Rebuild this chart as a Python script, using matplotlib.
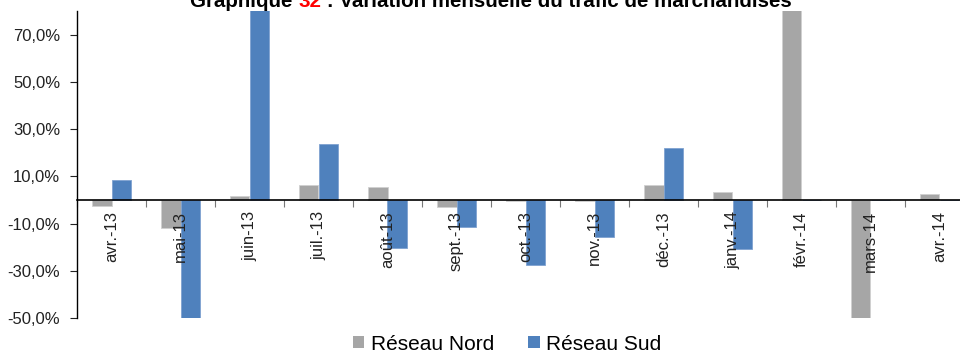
import numpy as np
import matplotlib
matplotlib.use("Agg")
import matplotlib.pyplot as plt
from matplotlib.patches import Patch
from matplotlib.ticker import FixedLocator, FuncFormatter

plt.rcParams['font.family'] = ['Liberation Sans', 'DejaVu Sans']

# monthly variation of freight traffic (%)
mois = ['avr.-13', 'mai-13', 'juin-13', 'juil.-13', 'août-13', 'sept.-13',
        'oct.-13', 'nov.-13', 'déc.-13', 'janv.-14', 'févr.-14', 'mars-14', 'avr.-14']
reseau_nord = [-2.6, -12.0, 1.5, 6.2, 5.6, -3.2, -0.5, -0.4, 6.2, 3.2, 95.0, -55.0, 2.6]
reseau_sud = [8.3, -55.0, 95.0, 23.8, -20.4, -11.4, -27.7, -15.8, 21.8, -20.9, 0.0, 0.0, 0.0]

col_nord = '#A6A6A6'
col_sud = '#4F81BD'

fig = plt.figure(figsize=(9.6, 3.54), dpi=100)
ax = fig.add_axes([77 / 960, 36 / 354, 897 / 960, 307 / 354])

x = np.arange(len(mois))
w = 0.28
ax.bar(x - w / 2, reseau_nord, width=w, color=col_nord, edgecolor='#D0D0D0', linewidth=0.6)
ax.bar(x + w / 2, reseau_sud, width=w, color=col_sud, edgecolor='#7FA2D0', linewidth=0.6)

ax.set_xlim(-0.5, len(mois) - 0.5)
ax.set_ylim(-50, 80)

# y axis
ax.yaxis.set_major_locator(FixedLocator([-50, -30, -10, 10, 30, 50, 70]))
ax.yaxis.set_major_formatter(FuncFormatter(lambda v, p: f"{v:.1f}%".replace('.', ',')))
ax.tick_params(axis='y', direction='out', length=5, width=0.8, pad=7, labelsize=12, colors='#222222')
ax.spines['left'].set_color('black')
ax.spines['left'].set_linewidth(1.0)

# category axis crossing at zero
ax.spines['bottom'].set_position(('data', 0))
ax.spines['bottom'].set_linewidth(1.2)
ax.spines['top'].set_visible(False)
ax.spines['right'].set_visible(False)
ax.set_xticks(x)
ax.set_xticklabels(mois, rotation=90, va='top', ha='center')
ax.set_xticks(np.arange(len(mois) + 1) - 0.5, minor=True)
ax.tick_params(axis='x', which='major', length=0, pad=8, labelsize=12, colors='#222222')
ax.tick_params(axis='x', which='minor', length=5, width=0.8, color='#777777')

# title with the chart number in red
fig.canvas.draw()
r = fig.canvas.get_renderer()
parts = [("Graphique ", 'black'), ("32", 'red'), (" : Variation mensuelle du trafic de marchandises", 'black')]
texts = []
total = 0
for s, c in parts:
    t = fig.text(0, 0, s, fontsize=14.8, fontweight='bold', color=c)
    bb = t.get_window_extent(renderer=r)
    texts.append((t, bb.width))
    total += bb.width
xpos = 491 - total / 2
for t, wd in texts:
    t.set_position((xpos / 960, (354 - 7) / 354))
    t.set_va('baseline')
    xpos += wd

handles = [Patch(facecolor=col_nord, label='Réseau Nord'), Patch(facecolor=col_sud, label='Réseau Sud')]
fig.legend(handles=handles, loc='center', bbox_to_anchor=(507 / 960, 10 / 354), ncol=2,
           frameon=False, fontsize=15, handlelength=0.55, handleheight=0.55,
           handletextpad=0.3, columnspacing=1.65, borderaxespad=0, borderpad=0)

fig.savefig('out.png', dpi=100)
